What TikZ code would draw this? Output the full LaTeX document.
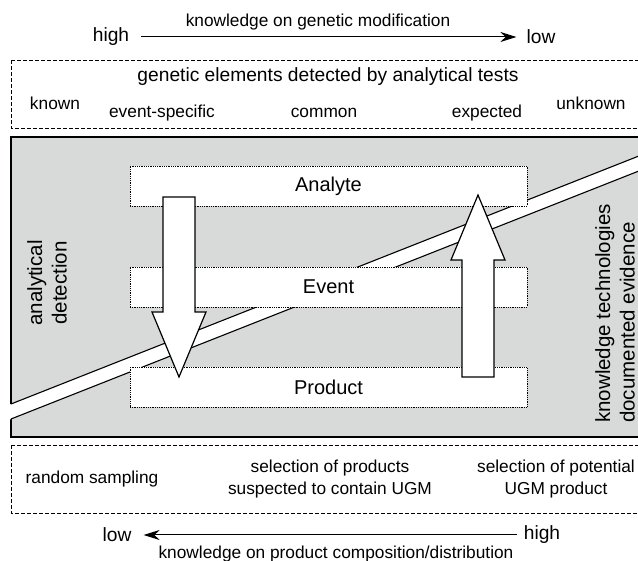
\documentclass[tikz,border=0pt]{standalone}
\usepackage{fontspec}
\setmainfont{Liberation Sans}
\usetikzlibrary{arrows.meta}

\definecolor{panelgray}{RGB}{216,217,217}
\tikzset{
  panel/.style={draw,fill=panelgray,line width=1.3pt},
  dashbox/.style={draw,line width=0.9pt,dash pattern=on 4pt off 2pt},
  level/.style={draw,line width=0.8pt,densely dotted,fill=white,inner sep=0pt,
    minimum width=397pt,minimum height=40pt,font=\fontsize{20}{24}\selectfont},
  bigarrow/.style={draw,fill=white,line width=1.2pt,line join=miter},
  big/.style={inner sep=0pt,font=\fontsize{19.2}{23}\selectfont},
  small/.style={inner sep=0pt,font=\fontsize{17.3}{22}\selectfont},
  side/.style={inner sep=0pt,rotate=90,font=\fontsize{20.5}{24.5}\selectfont},
  scale arrow/.style={line width=1pt,-{Stealth[length=16pt,width=10pt]}}
}

\begin{document}
\begin{tikzpicture}[x=1pt,y=-1pt]
\clip (0,0) rectangle (638,561);

% top scale
\node[small] (topcap) at (318,22) {knowledge on genetic modification};
\node[big] (hightop) at (111,37) {high};
\node[big] (lowtop) at (541,37) {low};
\draw[scale arrow,shorten <=12pt,shorten >=10pt] (hightop) -- (lowtop);

% detected elements
\draw[dashbox] (11,60) rectangle (650,128);
\node[big] (elements) at (328,77) {genetic elements detected by analytical tests};
\node[small] (known) at (55,103) {known};
\node[small] (specific) at (162,113) {event-specific};
\node[small] (common) at (324,113) {common};
\node[small] (expected) at (487,113) {expected};
\node[small] (unknown) at (591,103) {unknown};

% grey panel with the white band
\draw[panel] (11,137) rectangle (650,437);
\coordinate (bandUL) at (11,404); \coordinate (bandUR) at (650,151.6);
\coordinate (bandLL) at (11,419); \coordinate (bandLR) at (650,166.6);
\fill[white] (9,404.8) -- (bandUR) -- (bandLR) -- (9,419.8) -- cycle;
\draw[line width=1.1pt] (bandUL) -- (bandUR);
\draw[line width=1.1pt] (bandLL) -- (bandLR);

\node[side,align=center] (detection) at (47,283) {analytical\\detection};
\node[side,align=left,anchor=west] (evidence) at (615,423) {knowledge technologies\\documented evidence};

% levels
\node[level] (analyte) at (328.5,186) {Analyte};
\node[level] (event) at (328.5,287) {Event};
\node[level] (product) at (328.5,387.5) {Product};

\draw[bigarrow] (163,197) -- (163,312) -- (152,312) -- (179,377) -- (206,312) -- (195,312) -- (195,197) -- cycle;
\draw[bigarrow] (462,377) -- (462,260) -- (451,260) -- (478,195) -- (505,260) -- (494,260) -- (494,377) -- cycle;

% sampling
\draw[dashbox] (11,445) rectangle (650,513);
\node[small] (random) at (92,479) {random sampling};
\node[small,align=center] (suspected) at (330,479) {selection of products\\suspected to contain UGM};
\node[small,align=center] (potential) at (556,479) {selection of potential\\UGM product};

% bottom scale
\node[big] (highbot) at (542,535) {high};
\node[big] (lowbot) at (117,535) {low};
\draw[scale arrow,shorten <=7pt,shorten >=12pt] (highbot) -- (lowbot);
\node[small] (botcap) at (336,554) {knowledge on product composition/distribution};
\end{tikzpicture}
\end{document}
